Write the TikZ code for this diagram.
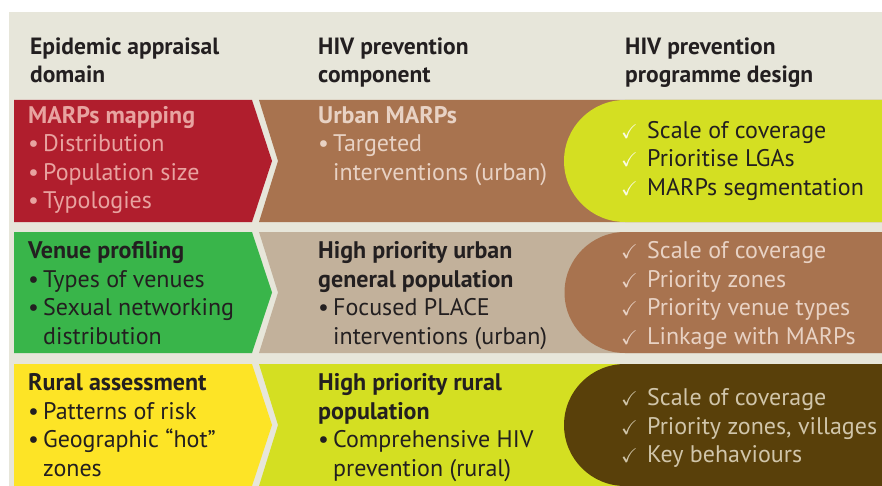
\documentclass[tikz,border=0pt]{standalone}
\usepackage{fontspec}
\setmainfont{PT Sans}
\usepackage{amssymb}
\definecolor{bgc}{HTML}{E7E6DA}
\definecolor{redc}{HTML}{B01E2D}
\definecolor{redtxt}{HTML}{E8A3A0}
\definecolor{brownc}{HTML}{A8734F}
\definecolor{browntxt}{HTML}{E8D2C4}
\definecolor{limec}{HTML}{D4DF22}
\definecolor{greenc}{HTML}{39B54A}
\definecolor{tanc}{HTML}{C2B19B}
\definecolor{yellowc}{HTML}{FDE426}
\definecolor{dbrownc}{HTML}{59400A}
\definecolor{dbrowntxt}{HTML}{D0C5AA}
\definecolor{darktxt}{HTML}{231F20}
\definecolor{chkwhite}{HTML}{FAFAE6}
\newcommand\mybul{\makebox[15pt][l]{\textbullet}}
\newcommand\myind{\hspace*{15pt}}
\newcommand\mychk{\makebox[26pt][l]{\fontsize{20}{20}\selectfont$\checkmark$}}
\newcommand\celltext[1]{\begin{tabular}[t]{@{}l@{}}#1\end{tabular}}
\tikzset{
  hdr/.style={anchor=base west, inner sep=0pt, text=darktxt, font=\fontsize{23.5}{28}\selectfont\bfseries},
  body/.style={anchor=base west, inner sep=0pt, font=\fontsize{24}{28.5}\selectfont},
}
\begin{document}
\begin{tikzpicture}[x=1pt,y=-1pt]
\useasboundingbox (0,0) rectangle (882,486);
\fill[white] (0,0) rectangle (882,486);
\fill[bgc] (9,12) rectangle (882,486);
% Row 1
\fill[brownc] (259,100) -- (882,100) -- (882,222) -- (259,222) -- (278,161) -- cycle;
\fill[redc] (14,100) -- (252,100) -- (272,161) -- (252,222) -- (14,222) -- cycle;
\fill[limec] (882,100) -- (625,100) arc[start angle=270, end angle=90, radius=61] -- (882,222) -- cycle;
% Row 2
\fill[tanc] (259,232) -- (882,232) -- (882,353) -- (259,353) -- (278,292.5) -- cycle;
\fill[greenc] (14,232) -- (252,232) -- (272,292.5) -- (252,353) -- (14,353) -- cycle;
\fill[brownc] (882,232) -- (625,232) arc[start angle=270, end angle=90, radius=60.5] -- (882,353) -- cycle;
% Row 3
\fill[limec] (259,364) -- (882,364) -- (882,486) -- (259,486) -- (278,425) -- cycle;
\fill[yellowc] (14,364) -- (252,364) -- (272,425) -- (252,486) -- (14,486) -- cycle;
\fill[dbrownc] (882,364) -- (625,364) arc[start angle=270, end angle=90, radius=61] -- (882,486) -- cycle;
% headers
\node[hdr] (h1) at (30,55) {\celltext{Epidemic appraisal\\domain}};
\node[hdr] (h2) at (318,55) {\celltext{HIV prevention\\component}};
\node[hdr] (h3) at (625,55) {\celltext{HIV prevention\\programme design}};
% row 1
\node[body, text=redtxt] (a1) at (28,123.5) {\celltext{\textbf{MARPs mapping}\\\mybul Distribution\\\mybul Population size\\\mybul Typologies}};
\node[body, text=browntxt] (b1) at (318,123.5) {\celltext{\textbf{Urban MARPs}\\\mybul Targeted\\\myind interventions (urban)}};
\node[body, text=darktxt] (c1) at (621,138.5) {\celltext{\textcolor{chkwhite}{\mychk}Scale of coverage\\\textcolor{chkwhite}{\mychk}Prioritise LGAs\\\textcolor{chkwhite}{\mychk}MARPs segmentation}};
% row 2
\node[body, text=darktxt] (a2) at (28,258.5) {\celltext{\textbf{Venue profiling}\\\mybul Types of venues\\\mybul Sexual networking\\\myind distribution}};
\node[body, text=darktxt] (b2) at (318,258.5) {\celltext{\textbf{High priority urban}\\\textbf{general population}\\\mybul Focused PLACE\\\myind interventions (urban)}};
\node[body, text=browntxt] (c2) at (621,258.5) {\celltext{\mychk Scale of coverage\\\mychk Priority zones\\\mychk Priority venue types\\\mychk Linkage with MARPs}};
% row 3
\node[body, text=darktxt] (a3) at (28,390.5) {\celltext{\textbf{Rural assessment}\\\mybul Patterns of risk\\\mybul Geographic “hot”\\\myind zones}};
\node[body, text=darktxt] (b3) at (318,390.5) {\celltext{\textbf{High priority rural}\\\textbf{population}\\\mybul Comprehensive HIV\\\myind prevention (rural)}};
\node[body, text=dbrowntxt] (c3) at (621,405.5) {\celltext{\mychk Scale of coverage\\\mychk Priority zones, villages\\\mychk Key behaviours}};
\end{tikzpicture}
\end{document}
